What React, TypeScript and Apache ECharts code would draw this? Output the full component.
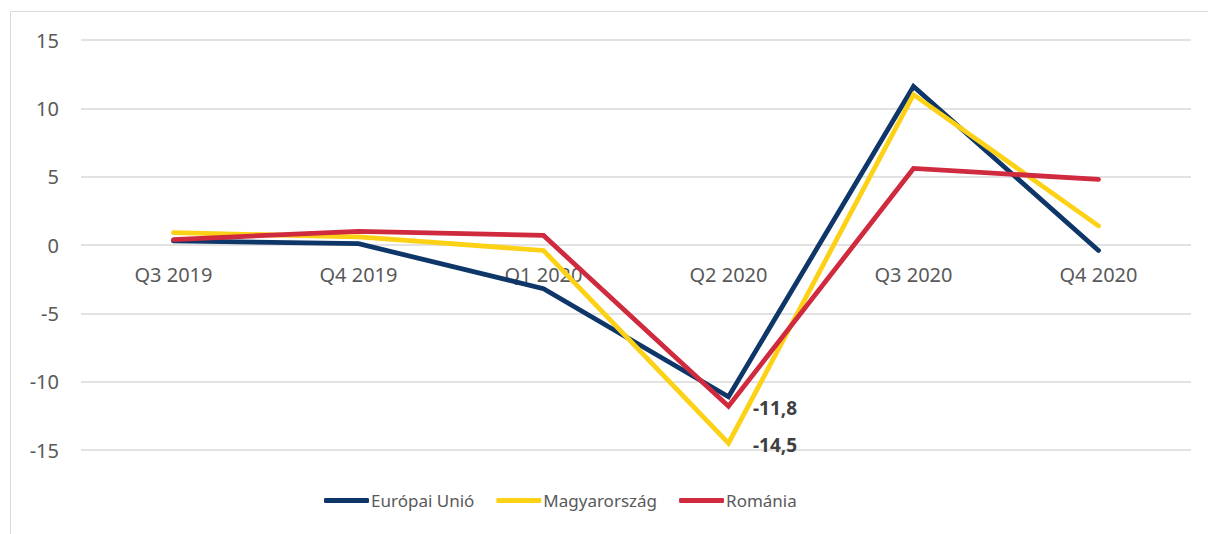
import React, { useEffect, useRef } from "react";
import * as echarts from "echarts";

const categories = ["Q3 2019", "Q4 2019", "Q1 2020", "Q2 2020", "Q3 2020", "Q4 2020"];
const euValues = [0.3, 0.1, -3.2, -11.1, 11.6, -0.4];
const huValues = [0.9, 0.6, -0.4, -14.5, 11.0, 1.4];
const roValues = [0.4, 1.0, 0.7, -11.8, 5.6, 4.8];
const labeledIndex = 3;

const FONT = "'Noto Sans', sans-serif";
const Y_MIN = -15;
const Y_MAX = 15;
const GRID_TOP = 40;
const GRID_BOTTOM = 84;
const CHART_H = 534;

function withLabel(values: number[], color: string) {
  return values.map((v, i) =>
    i === labeledIndex
      ? {
          value: v,
          symbol: "circle",
          symbolSize: 1,
          itemStyle: { color },
          label: {
            show: true,
            position: "right",
            distance: 24,
            offset: [0, 2],
            formatter: () => String(v).replace(".", ","),
            fontFamily: FONT,
            fontSize: 19,
            fontWeight: "bold",
            color: "#404040",
          },
        }
      : v
  );
}

export default function App() {
  const ref = useRef<HTMLDivElement>(null);
  useEffect(() => {
    if (!ref.current) return;
    const chart = echarts.init(ref.current, undefined, { renderer: "svg" });
    const gridH = CHART_H - GRID_TOP - GRID_BOTTOM;
    const zeroOffset = (gridH * (0 - Y_MIN)) / (Y_MAX - Y_MIN);
    const lineSeries = (name: string, data: any[], color: string) => ({
      name,
      type: "line",
      data,
      symbol: "none",
      showSymbol: true,
      smooth: false,
      lineStyle: { width: 4.8, color, cap: "round", join: "miter" },
      itemStyle: { color },
    });
    chart.setOption({
      animation: false,
      backgroundColor: "#ffffff",
      textStyle: { fontFamily: FONT },
      graphic: [
        {
          type: "rect",
          shape: { x: 10.5, y: 11.5, width: 1220, height: 540 },
          style: { fill: "none", stroke: "#d9d9d9", lineWidth: 1 },
          silent: true,
        },
      ],
      grid: { left: 81, right: 17, top: GRID_TOP, bottom: GRID_BOTTOM },
      legend: {
        top: 487,
        left: 319,
        itemWidth: 45,
        itemHeight: 5,
        itemGap: 22,
        icon: "roundRect",
        textStyle: { fontFamily: FONT, fontSize: 17, color: "#595959", padding: [0, 0, 0, -3] },
        data: ["Európai Unió", "Magyarország", "Románia"],
      },
      xAxis: {
        type: "category",
        data: categories,
        boundaryGap: true,
        offset: -zeroOffset,
        axisLine: { show: false, onZero: false },
        axisTick: { show: false },
        axisLabel: { fontFamily: FONT, fontSize: 20, color: "#595959", margin: 19 },
      },
      yAxis: {
        type: "value",
        min: Y_MIN,
        max: Y_MAX,
        interval: 5,
        axisLine: { show: false },
        axisTick: { show: false },
        axisLabel: { fontFamily: FONT, fontSize: 20, color: "#595959", margin: 22 },
        splitLine: { lineStyle: { color: "#d9d9d9", width: 1.5 } },
      },
      series: [
        lineSeries("Európai Unió", euValues, "#0e3668"),
        lineSeries("Magyarország", withLabel(huValues, "#fdd116"), "#fdd116"),
        lineSeries("Románia", withLabel(roValues, "#cf2a3e"), "#cf2a3e"),
      ],
    });
    return () => chart.dispose();
  }, []);
  return <div ref={ref} style={{ width: 1208, height: CHART_H, position: "absolute", left: 0, top: 0 }} />;
}
